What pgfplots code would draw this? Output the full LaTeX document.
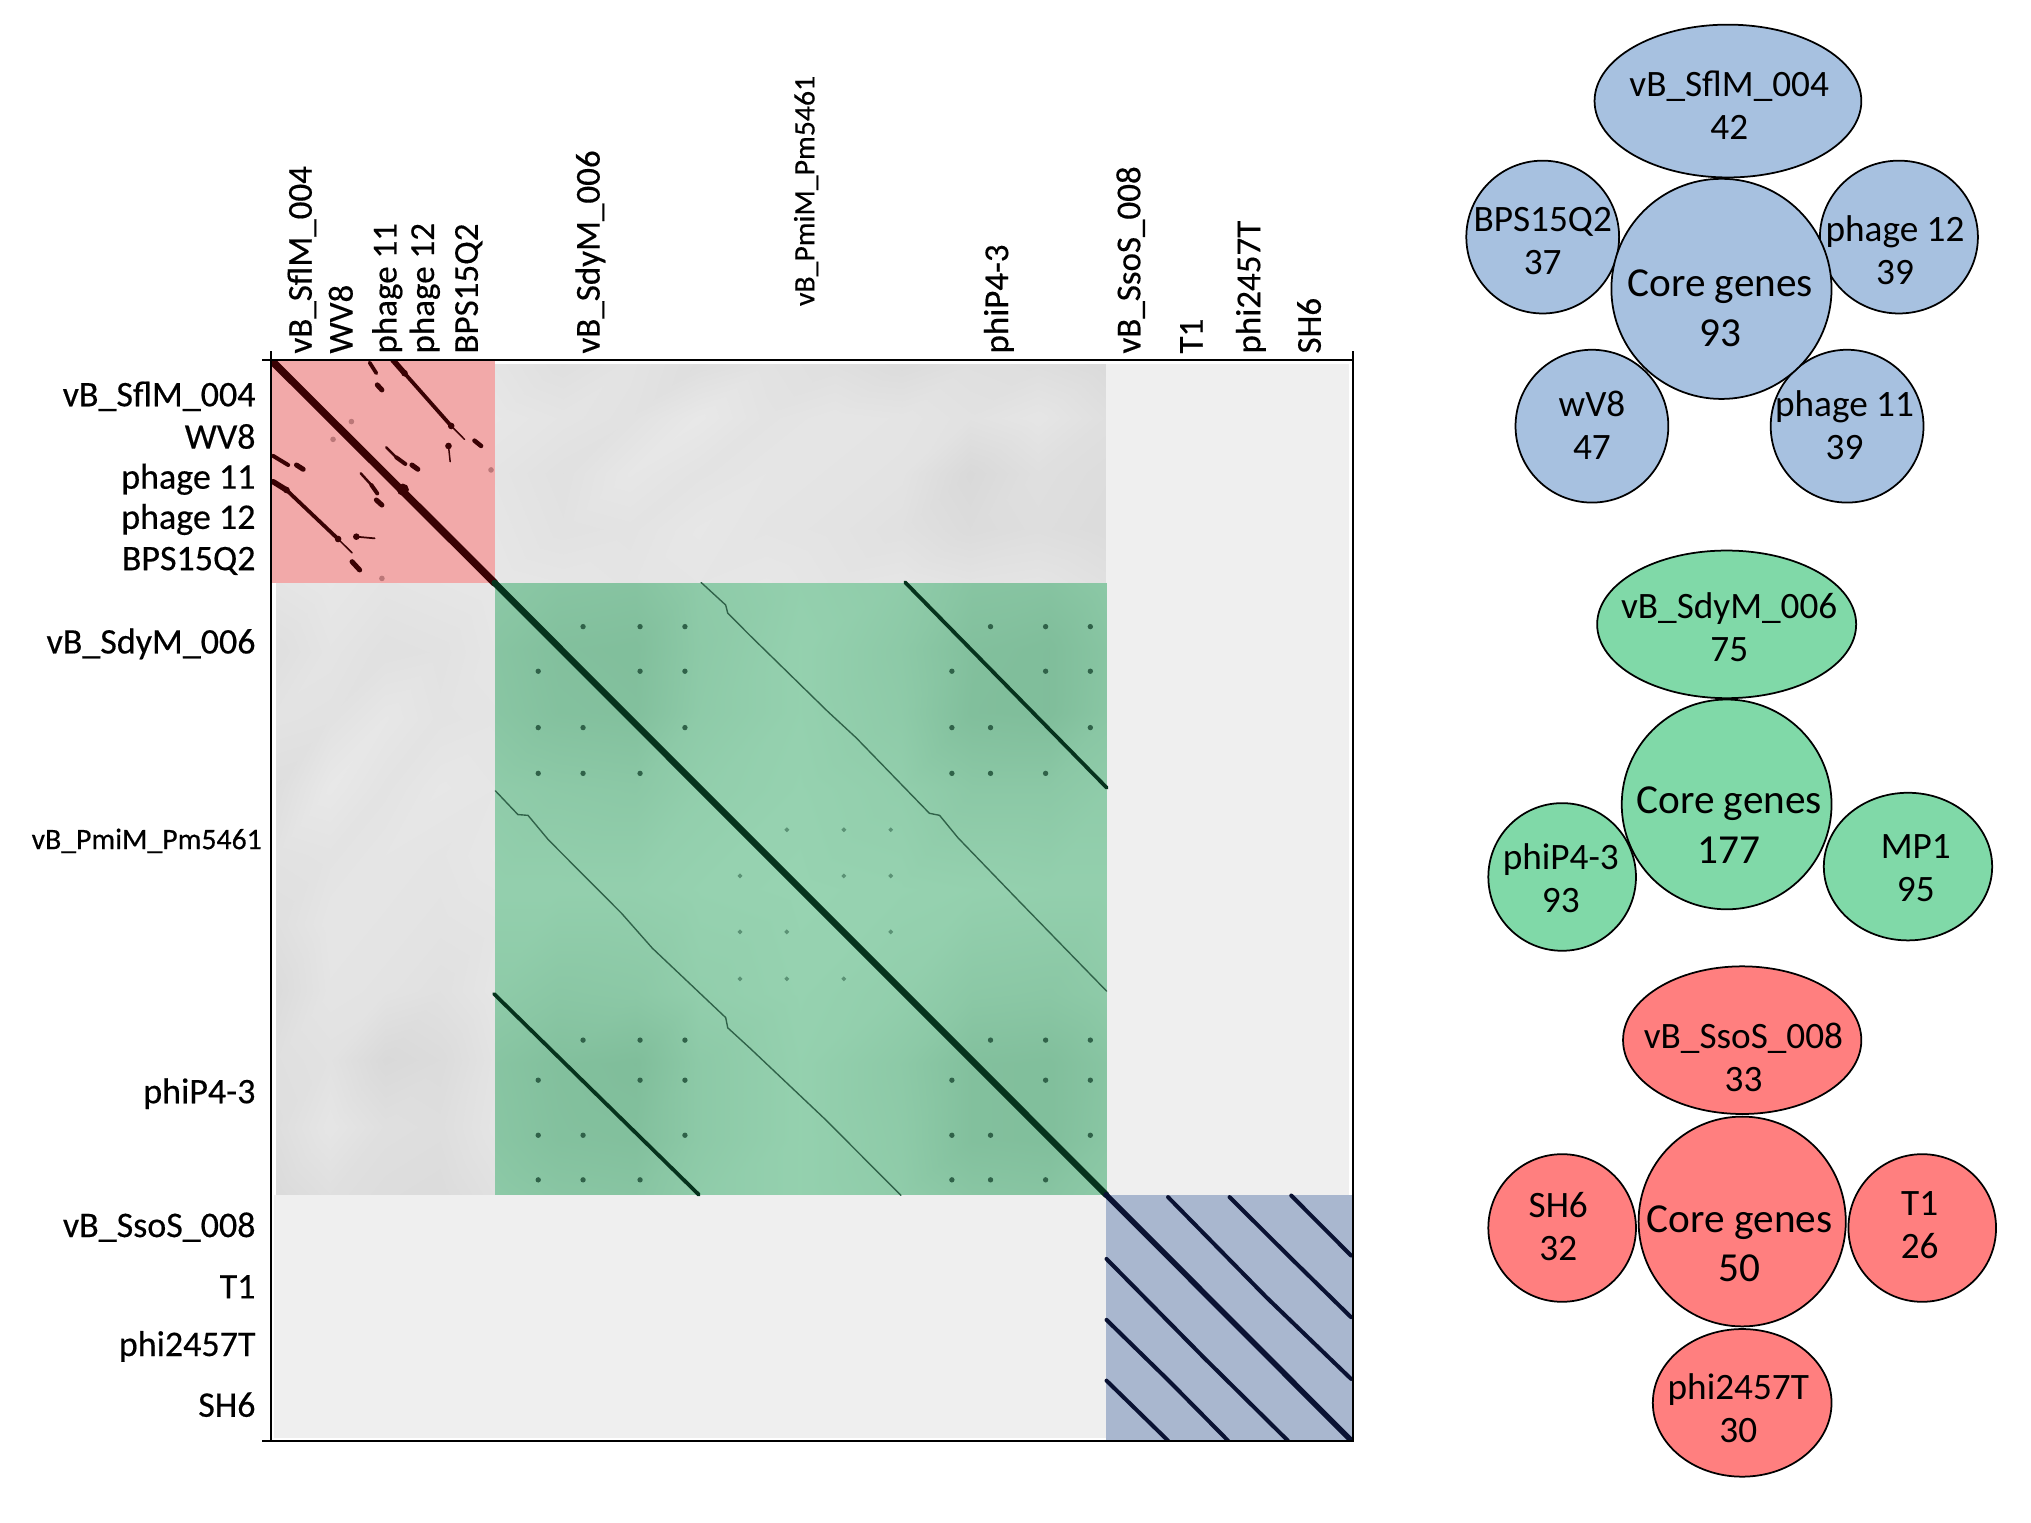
\documentclass[border=0pt]{standalone}
\usepackage{pgfplots}
\usepackage{pgfplotstable}
\pgfplotsset{compat=1.18}
\usepackage{fontspec}
\setmainfont{Carlito}
\newfontfamily\labelfont[FakeBold=0.4]{Carlito}

% 1 reference pixel = 0.4pt, axis coordinates are read straight off the picture
\definecolor{pinkblock}{HTML}{F2A9A9}
\definecolor{pinkline}{HTML}{3A0204}
\definecolor{greenblock}{HTML}{93D1AF}
\definecolor{greenline}{HTML}{06331D}
\definecolor{navyblock}{HTML}{A9B7CF}
\definecolor{navyline}{HTML}{0A1233}
\definecolor{greyB}{HTML}{EFEFEF}
\definecolor{bubblue}{HTML}{A7C1E0}
\definecolor{bubgreen}{HTML}{80D9A8}
\definecolor{bubred}{HTML}{FF7F7F}
\definecolor{gmlow}{HTML}{97D3B1}
\definecolor{gmhigh}{HTML}{7DBB98}
\definecolor{gylow}{HTML}{EDEDED}
\definecolor{gyhigh}{HTML}{D4D4D4}

% shading of the green block, darkness 0..1 read by eye, 9 columns
\pgfplotstableread{
x y c
381 450 .45
430 450 .60
490 450 .65
540 450 .35
617 450 .15
695 450 .30
750 450 .60
810 450 .65
854 450 .45
381 500 .60
430 500 .80
490 500 .85
540 500 .40
617 500 .10
695 500 .40
750 500 .80
810 500 .90
854 500 .60
381 550 .55
430 550 .75
490 550 .80
540 550 .35
617 550 .10
695 550 .35
750 550 .85
810 550 .90
854 550 .55
381 610 .30
430 610 .40
490 610 .45
540 610 .20
617 610 .05
695 610 .20
750 610 .45
810 610 .45
854 610 .30
381 686 .15
430 686 .15
490 686 .15
540 686 .05
617 686 .00
695 686 .05
750 686 .10
810 686 .15
854 686 .15
381 767 .35
430 767 .50
490 767 .45
540 767 .20
617 767 .05
695 767 .20
750 767 .45
810 767 .50
854 767 .35
381 820 .60
430 820 .80
490 820 .90
540 820 .40
617 820 .10
695 820 .40
750 820 .80
810 820 .85
854 820 .60
381 880 .55
430 880 .75
490 880 .80
540 880 .40
617 880 .10
695 880 .35
750 880 .80
810 880 .85
854 880 .55
381 922 .40
430 922 .55
490 922 .60
540 922 .30
617 922 .10
695 922 .30
750 922 .55
810 922 .60
854 922 .40
}\greenshade

% mottling of the top grey panel, 10 columns, the left panel is its mirror
\pgfplotstableread{
x y c
381 281 .35
434 281 .55
486 281 .40
539 281 .60
591 281 .45
644 281 .55
696 281 .70
749 281 .55
801 281 .60
854 281 .75
381 323 .25
434 323 .35
486 323 .45
539 323 .20
591 323 .40
644 323 .30
696 323 .35
749 323 .45
801 323 .30
854 323 .55
381 365 .35
434 365 .50
486 365 .25
539 365 .40
591 365 .30
644 365 .35
696 365 .40
749 365 .80
801 365 .55
854 365 .65
381 408 .30
434 408 .45
486 408 .40
539 408 .25
591 408 .35
644 408 .40
696 408 .50
749 408 .70
801 408 .60
854 408 .70
381 450 .25
434 450 .30
486 450 .35
539 450 .30
591 450 .25
644 450 .35
696 450 .30
749 450 .40
801 450 .35
854 450 .50
}\greyshade

\pgfplotsset{
  block/.style={fill=#1,draw=none,forget plot},
  seg/.style 2 args={color=#1,line width=#2,no markers,line cap=round,forget plot},
  dots/.style 2 args={only marks,mark=*,mark size=#2,color=#1,mark options={draw=none},forget plot},
  greenmap/.style={colormap={gm}{color=(gmlow) color=(gmhigh)}},
  greymap/.style={colormap={gy}{color=(gylow) color=(gyhigh)}},
}

% x, y, rx, ry, colour
\newcommand\bubble[5]{%
  \addplot[only marks,mark=*,mark size=#4*0.518,
    mark options={xscale=#3/#4,fill=#5,draw=black,line width=0.7pt},forget plot]
    coordinates {(#1,#2)};}
\newcommand\bubtext[3]{\node[align=center,font=\fontsize{14.9}{17.2}\selectfont] at (axis cs:#1,#2) {#3};}
\newcommand\coretext[3]{\node[align=center,font=\fontsize{16.5}{19.7}\selectfont] at (axis cs:#1,#2) {#3};}

\begin{document}
\begin{tikzpicture}
\path[use as bounding box] (0,0) rectangle (812.4pt,608.8pt);

\begin{axis}[
  at={(108.4pt,32.4pt)},anchor=south west,
  scale only axis,width=432.8pt,height=432.4pt,
  xmin=208,xmax=1045,ymin=278,ymax=1112,y dir=reverse,
  axis on top,axis line style={line width=1.1pt},
  tick align=outside,xtick pos=upper,ytick pos=left,xticklabel pos=upper,
  major tick length=0pt,
  point meta min=0,point meta max=1,
  xtick={232,262,298,327,361,455,622,771,873,920,966,1011},
  xticklabels={vB\_SflM\_004,WV8,phage 11,phage 12,BPS15Q2,vB\_SdyM\_006,
    {\fontsize{11.9}{13}\selectfont\hspace*{19pt}vB\_PmiM\_Pm5461},phiP4-3,vB\_SsoS\_008,T1,phi2457T,SH6},
  ytick={306,337,370,401,433,497,649,844,947,993,1039,1084},
  yticklabels={vB\_SflM\_004,WV8,phage 11,phage 12,BPS15Q2,vB\_SdyM\_006,
    {\fontsize{11.9}{13}\selectfont vB\_PmiM\_Pm5461\hspace*{-2.5pt}},phiP4-3,vB\_SsoS\_008,T1,phi2457T,SH6},
  x tick label style={rotate=90,anchor=west,font=\labelfont\fontsize{14}{15}\selectfont,inner xsep=2.4pt},
  y tick label style={anchor=east,font=\labelfont\fontsize{14.4}{15}\selectfont,inner xsep=6pt},
  extra x ticks={208,1045},extra x tick labels={},
  extra y ticks={278,1112},extra y tick labels={},
  extra tick style={major tick length=3.5pt,tick style={black,line width=0.8pt}},
]
% grey background panels
\addplot[surf,shader=interp,greymap,mesh/cols=10,point meta=explicit,forget plot]
  table[x=x,y=y,meta=c] {\greyshade};
\addplot[surf,shader=interp,greymap,mesh/cols=10,point meta=explicit,forget plot]
  table[x expr=\thisrow{y}-69,y expr=\thisrow{x}+69,meta=c] {\greyshade};
\addplot[block=greyB] coordinates {(854,281)(1042,281)(1042,922)(854,922)} --cycle;
\addplot[block=greyB] coordinates {(210,922)(854,922)(854,1110)(210,1110)} --cycle;

% coloured cluster blocks
\addplot[block=pinkblock] coordinates {(208,278)(381,278)(381,450)(208,450)} --cycle;
\addplot[surf,shader=interp,greenmap,mesh/cols=9,point meta=explicit,forget plot]
  table[x=x,y=y,meta=c] {\greenshade};
\addplot[block=navyblock] coordinates {(854,922)(1045,922)(1045,1112)(854,1112)} --cycle;

% pink block alignments
\addplot[seg={pinkline}{3pt}] coordinates {(208,278)(381,450)};
\addplot[seg={pinkline}{2.2pt}] coordinates {(302.3,278)(311.3,288.2)};
\addplot[seg={pinkline}{1.5pt}] coordinates {(311.3,288.2)(347.4,328.9)};
\addplot[seg={pinkline}{0.6pt}] coordinates {(347.4,328.9)(357.7,339.2)};
\addplot[seg={pinkline}{1.8pt}] coordinates {(365.4,340.2)(370.5,344.3)};
\addplot[seg={pinkline}{1.5pt}] coordinates {(284.3,280)(289.5,288.2)};
\addplot[seg={pinkline}{2pt}] coordinates {(290.2,297.2)(293.8,301.1)};
\addplot[seg={pinkline}{0.6pt}] coordinates {(345.3,344.3)(346.6,356.4)};
\addplot[seg={pinkline}{1pt}] coordinates {(297.2,345.4)(304.9,353.1)};
\addplot[seg={pinkline}{1.6pt}] coordinates {(304.9,353.1)(311.9,358.2)};
\addplot[seg={pinkline}{2pt}] coordinates {(317,359)(321.6,362.3)};
\addplot[seg={pinkline}{1.6pt}] coordinates {(209.7,352)(221.3,359)};
\addplot[seg={pinkline}{2pt}] coordinates {(227.7,359)(232.9,362.3)};
\addplot[seg={pinkline}{1pt}] coordinates {(277.4,365.4)(285.6,374.4)};
\addplot[seg={pinkline}{1.6pt}] coordinates {(285.6,374.4)(290.2,380.9)};
\addplot[seg={pinkline}{2pt}] coordinates {(289.5,386)(293.8,389.9)};
\addplot[seg={pinkline}{2.2pt}] coordinates {(209.7,371.9)(220,378.3)};
\addplot[seg={pinkline}{1.5pt}] coordinates {(220,378.3)(259.9,416.1)};
\addplot[seg={pinkline}{0.6pt}] coordinates {(259.9,416.1)(270.7,426.7)};
\addplot[seg={pinkline}{2pt}] coordinates {(270.7,433.6)(276.6,440)};
\addplot[seg={pinkline}{0.7pt}] coordinates {(274,414.3)(288.2,415.6)};
\addplot[dots={pinkline}{1.1pt}] coordinates {(311.3,288.2)(347.4,328.9)(220,378.3)(259.9,416.1)(345.3,344.3)(274,414.3)};
\addplot[dots={pinkline}{2.2pt}] coordinates {(310,378)};
\addplot[dots={pinkline!30!pinkblock}{0.9pt}] coordinates {(270.2,325.5)(256,339.2)(378.2,362.8)(293.8,446.5)};

% green block alignments
\addplot[seg={greenline}{2.6pt}] coordinates {(381,450)(854,922)};
\addplot[seg={greenline}{1.5pt}] coordinates {(698.5,449.5)(854.5,608)};
\addplot[seg={greenline}{1.5pt}] coordinates {(380.5,767)(539,922)};
\addplot[seg={greenline!70!greenblock}{0.55pt}] coordinates {(540.8,449.7)(559.7,467)(561.3,473.3)(578.6,490.6)(638.5,549)(660.6,569.4)(717.3,627.7)(725.2,629.3)(739.4,646.6)(786.7,695.5)(854.4,764.9)};
\addplot[seg={greenline!70!greenblock}{0.55pt}] coordinates {(381.6,610.4)(399,628.7)(406.8,629.3)(422.6,648.2)(479.3,705)(503,731.8)(559.7,785.3)(561.3,793.2)(578.6,809)(637,864.1)(695.3,922.5)};
\addplot[dots={greenline!70!greenblock}{0.85pt}] coordinates {
  (449.4,483.7)(493.5,483.7)(528.2,483.7) (414.7,518.1)(493.5,518.1)(528.2,518.1)
  (414.7,561.6)(449.4,561.6)(528.2,561.6) (414.7,596.9)(449.4,596.9)(493.5,596.9)
  (764.6,483.7)(807.2,483.7)(841.8,483.7) (734.7,518.1)(807.2,518.1)(841.8,518.1)
  (734.7,561.6)(764.6,561.6)(841.8,561.6) (734.7,596.9)(764.6,596.9)(807.2,596.9)
  (449.4,802.7)(493.5,802.7)(528.2,802.7) (414.7,833.6)(493.5,833.6)(528.2,833.6)
  (414.7,876.1)(449.4,876.1)(528.2,876.1) (414.7,910.5)(449.4,910.5)(493.5,910.5)
  (764.6,802.7)(807.2,802.7)(841.8,802.7) (734.7,833.6)(807.2,833.6)(841.8,833.6)
  (734.7,876.1)(764.6,876.1)(841.8,876.1) (734.7,910.5)(764.6,910.5)(807.2,910.5)};
\addplot[dots={greenline!40!greenblock}{0.7pt}] coordinates {
  (607,640.4)(651.1,640.4)(687.4,640.4) (570.8,676)(651.1,676)(687.4,676)
  (570.8,719.2)(607,719.2)(687.4,719.2) (570.8,755.4)(607,755.4)(651.1,755.4)};

% navy block alignments
\addplot[seg={navyline}{2.2pt}] coordinates {(854,922)(1044,1112)};
\addplot[seg={navyline}{1.6pt}] coordinates {(901.9,923.8)(977.9,1001)(1043.5,1064.1)};
\addplot[seg={navyline}{1.6pt}] coordinates {(949.5,923.8)(996,970)(1043.5,1016.5)};
\addplot[seg={navyline}{1.6pt}] coordinates {(997.2,922.6)(1043.5,968.9)};
\addplot[seg={navyline}{1.6pt}] coordinates {(854.3,971.5)(930,1048)(994.6,1111.7)};
\addplot[seg={navyline}{1.6pt}] coordinates {(854.3,1018.5)(902,1065)(948.3,1111.7)};
\addplot[seg={navyline}{1.6pt}] coordinates {(854.3,1065.4)(901.9,1111.7)};
\end{axis}

% gene count bubbles on the right
\begin{axis}[
  at={(0pt,0pt)},anchor=south west,
  scale only axis,width=812.4pt,height=608.8pt,
  xmin=0,xmax=1568,ymin=0,ymax=1175,y dir=reverse,
  hide axis,clip=false,
]
\bubble{1334}{78}{103}{59}{bubblue}
\bubble{1191}{183}{59}{59}{bubblue}
\bubble{1466}{183}{61}{59}{bubblue}
\bubble{1229}{329}{59}{59}{bubblue}
\bubble{1426}{329}{59}{59}{bubblue}
\bubble{1329}{223}{85}{85}{bubblue}

\bubble{1333}{482}{100}{57}{bubgreen}
\bubble{1206}{677}{57}{57}{bubgreen}
\bubble{1473}{669}{65}{57}{bubgreen}
\bubble{1333}{621}{81}{81}{bubgreen}

\bubble{1345}{803}{92}{57}{bubred}
\bubble{1206}{948}{57}{57}{bubred}
\bubble{1484}{948}{57}{57}{bubred}
\bubble{1345}{1083}{69}{57}{bubred}
\bubble{1345}{943}{80}{81}{bubred}
\end{axis}

% marks go on top of nodes within one axis, so the bubble texts get their own
\begin{axis}[
  at={(0pt,0pt)},anchor=south west,
  scale only axis,width=812.4pt,height=608.8pt,
  xmin=0,xmax=1568,ymin=0,ymax=1175,y dir=reverse,
  hide axis,clip=false,
]
\bubtext{1335}{81.5}{vB\_SflM\_004\\42}
\bubtext{1191}{186}{BPS15Q2\\37}
\bubtext{1463}{193}{phage 12\\39}
\bubtext{1229}{328}{wV8\\47}
\bubtext{1424}{328}{phage 11\\39}
\coretext{1328}{238}{Core genes\\93}
\bubtext{1335}{484.5}{vB\_SdyM\_006\\75}
\bubtext{1205}{678}{phiP4-3\\93}
\bubtext{1479}{670}{MP1\\95}
\coretext{1335}{637}{Core genes\\177}
\bubtext{1346}{816}{vB\_SsoS\_008\\33}
\bubtext{1203}{947}{SH6\\32}
\bubtext{1482}{946}{T1\\26}
\bubtext{1342}{1087}{phi2457T\\30}
\coretext{1343}{960}{Core genes\\50}
\end{axis}
\end{tikzpicture}
\end{document}
